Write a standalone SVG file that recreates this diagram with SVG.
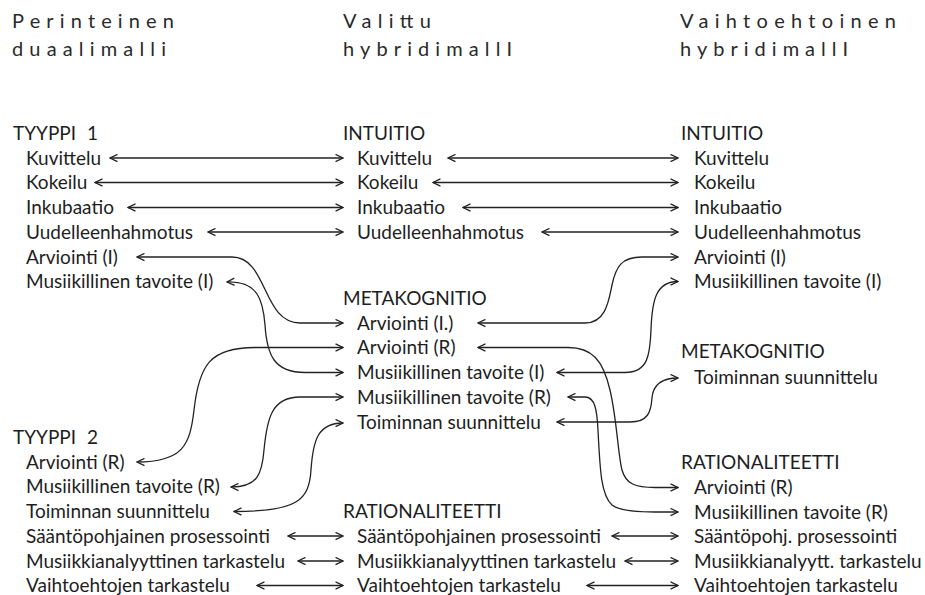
<svg xmlns="http://www.w3.org/2000/svg" width="925" height="595" viewBox="0 0 925 595">
<style>
text{font-family:Lato,"Open Sans","Liberation Sans",sans-serif;fill:#1e1e1e;font-size:19px}
.h{font-size:20px;fill:#2a2a2a}
.c{fill:none;stroke:#222;stroke-width:1.3;marker-start:url(#ah);marker-end:url(#ah)}
</style>
<defs>
<marker id="ah" viewBox="0 0 10 10" refX="9.3" refY="5" markerWidth="9" markerHeight="9" markerUnits="userSpaceOnUse" orient="auto-start-reverse">
<path d="M1,1 L9.3,5 L1,9" fill="none" stroke="#222" stroke-width="1.4"/>
</marker>
</defs>
<rect width="925" height="595" fill="#fff"/>
<g id="headers">
<g id="h1"><text class="h" x="12" y="28" textLength="162" lengthAdjust="spacing">Perinteinen</text><text class="h" x="12" y="56" textLength="154" lengthAdjust="spacing">duaalimalli</text></g>
<g id="h2"><text class="h" x="343" y="28" textLength="88" lengthAdjust="spacing">Valittu</text><text class="h" x="343" y="56" textLength="169" lengthAdjust="spacing">hybridimallI</text></g>
<g id="h3"><text class="h" x="680" y="28" textLength="216" lengthAdjust="spacing">Vaihtoehtoinen</text><text class="h" x="680" y="56" textLength="168" lengthAdjust="spacing">hybridimallI</text></g>
</g>
<g id="left">
<g id="l-tyyppi1"><text x="13" y="140">TYYPPI <tspan dx="6">1</tspan></text></g>
<g id="l-kuvittelu"><text x="26" y="164.5">Kuvittelu</text></g>
<g id="l-kokeilu"><text x="26" y="189">Kokeilu</text></g>
<g id="l-inkubaatio"><text x="26" y="214">Inkubaatio</text></g>
<g id="l-uudelleen"><text x="26" y="238.5">Uudelleenhahmotus</text></g>
<g id="l-arv-i"><text x="26" y="263.5">Arviointi (I)</text></g>
<g id="l-mus-i"><text x="26" y="288">Musiikillinen tavoite (I)</text></g>
<g id="l-tyyppi2"><text x="13" y="444">TYYPPI <tspan dx="6">2</tspan></text></g>
<g id="l-arv-r"><text x="26" y="468.5">Arviointi (R)</text></g>
<g id="l-mus-r"><text x="26" y="493">Musiikillinen tavoite (R)</text></g>
<g id="l-toim"><text x="26" y="518">Toiminnan suunnittelu</text></g>
<g id="l-saanto"><text x="26" y="542.5">Sääntöpohjainen prosessointi</text></g>
<g id="l-musan"><text x="26" y="567.5">Musiikkianalyyttinen tarkastelu</text></g>
<g id="l-vaiht"><text x="26" y="592">Vaihtoehtojen tarkastelu</text></g>
</g>
<g id="middle">
<g id="m-intuitio"><text x="343" y="140">INTUITIO</text></g>
<g id="m-kuvittelu"><text x="357" y="164.5">Kuvittelu</text></g>
<g id="m-kokeilu"><text x="357" y="189">Kokeilu</text></g>
<g id="m-inkubaatio"><text x="357" y="214">Inkubaatio</text></g>
<g id="m-uudelleen"><text x="357" y="238.5">Uudelleenhahmotus</text></g>
<g id="m-meta"><text x="343" y="304.5">METAKOGNITIO</text></g>
<g id="m-arv-i"><text x="357" y="329.5">Arviointi (I.)</text></g>
<g id="m-arv-r"><text x="357" y="354">Arviointi (R)</text></g>
<g id="m-mus-i"><text x="357" y="379">Musiikillinen tavoite (I)</text></g>
<g id="m-mus-r"><text x="357" y="403.5">Musiikillinen tavoite (R)</text></g>
<g id="m-toim"><text x="357" y="428.5">Toiminnan suunnittelu</text></g>
<g id="m-rat"><text x="343" y="518">RATIONALITEETTI</text></g>
<g id="m-saanto"><text x="357" y="542.5">Sääntöpohjainen prosessointi</text></g>
<g id="m-musan"><text x="357" y="567.5">Musiikkianalyyttinen tarkastelu</text></g>
<g id="m-vaiht"><text x="357" y="592">Vaihtoehtojen tarkastelu</text></g>
</g>
<g id="right">
<g id="r-intuitio"><text x="681" y="140">INTUITIO</text></g>
<g id="r-kuvittelu"><text x="694" y="164.5">Kuvittelu</text></g>
<g id="r-kokeilu"><text x="694" y="189">Kokeilu</text></g>
<g id="r-inkubaatio"><text x="694" y="214">Inkubaatio</text></g>
<g id="r-uudelleen"><text x="694" y="238.5">Uudelleenhahmotus</text></g>
<g id="r-arv-i"><text x="694" y="263.5">Arviointi (I)</text></g>
<g id="r-mus-i"><text x="694" y="288">Musiikillinen tavoite (I)</text></g>
<g id="r-meta"><text x="681" y="358">METAKOGNITIO</text></g>
<g id="r-toim"><text x="694" y="384">Toiminnan suunnittelu</text></g>
<g id="r-rat"><text x="681" y="468.5">RATIONALITEETTI</text></g>
<g id="r-arv-r"><text x="694" y="494">Arviointi (R)</text></g>
<g id="r-mus-r"><text x="694" y="518.5">Musiikillinen tavoite (R)</text></g>
<g id="r-saanto"><text x="694" y="542.5">Sääntöpohj. prosessointi</text></g>
<g id="r-musan"><text x="694" y="567.5">Musiikkianalyytt. tarkastelu</text></g>
<g id="r-vaiht"><text x="694" y="592">Vaihtoehtojen tarkastelu</text></g>
</g>
<g id="connectors">
<path class="c" d="M110,158 H343"/>
<path class="c" d="M95,182.5 H343"/>
<path class="c" d="M128,207.5 H343"/>
<path class="c" d="M208,232 H343"/>
<path class="c" d="M448,158 H678"/>
<path class="c" d="M433,182.5 H678"/>
<path class="c" d="M463,207.5 H678"/>
<path class="c" d="M542,232 H678"/>
<path class="c" d="M288,536 H343"/>
<path class="c" d="M298,561 H343"/>
<path class="c" d="M257,585.5 H343"/>
<path class="c" d="M612,536 H678"/>
<path class="c" d="M625,561 H678"/>
<path class="c" d="M587,585.5 H678"/>
<path class="c" d="M137,257 H232 C268,257 262,323 300,323 H343"/>
<path class="c" d="M227,282 C258,281 263,300 265,325 C267,355 274,372.5 305,372.5 H343"/>
<path class="c" d="M137,462 C183,462 190,445 194,410 C199,365 210,347.5 255,347.5 H343"/>
<path class="c" d="M231,487 C257,487 262,475 264,450 C267,418 272,397 300,397 H343"/>
<path class="c" d="M234,511.5 C298,511.5 309,500 311,470 C313,440 318,423 343,423"/>
<path class="c" d="M478,323 H585 C606,323 609,300 612,285 C616,266 622,257 642,257 H678"/>
<path class="c" d="M557,372.5 H625 C648,372.5 650,355 651,330 C652,300 656,281.5 678,281.5"/>
<path class="c" d="M557,422 H630 C648,422 651,412 652,398 C653,386 660,378 678,378"/>
<path class="c" d="M478,347.5 H568 C592,347.5 603,360 610,390 C617,420 618,455 622,470 C626,484 635,487.5 655,487.5 H678"/>
<path class="c" d="M568,397 H585 C595,397 597,410 598,430 C600,470 601,495 612,505 C618,510 630,512 655,512 H678"/>
</g>
</svg>
